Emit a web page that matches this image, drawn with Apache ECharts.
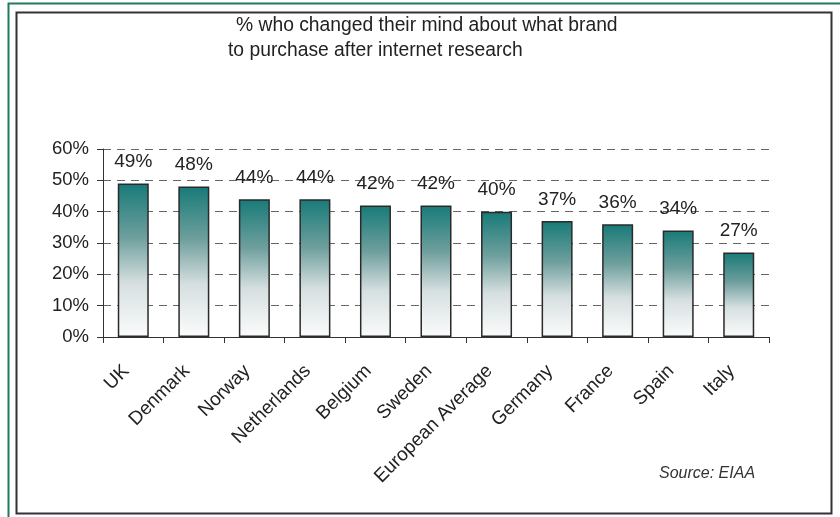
<!DOCTYPE html>
<html><head><meta charset="utf-8">
<script src="https://cdn.jsdelivr.net/npm/echarts@6/dist/echarts.min.js"></script>
<style>html,body{margin:0;padding:0;background:#fff}#c{width:840px;height:517px}</style>
</head><body><div id="c"></div>
<script>
var categories = ['UK','Denmark','Norway','Netherlands','Belgium','Sweden','European Average','Germany','France','Spain','Italy'];
var values = [49,48,44,44,42,42,40,37,36,34,27];
var titleLines = ['% who changed their mind about what brand','to purchase after internet research'];
var sourceText = 'Source: EIAA';

var chart = echarts.init(document.getElementById('c'), null, {renderer:'canvas'});
var font = '"Liberation Sans", Arial, sans-serif';
chart.setOption({
  animation:false,
  backgroundColor:'#fff',
  graphic:[
    {type:'polyline', shape:{points:[[8.5,517],[8.5,3.5],[840,3.5]]}, style:{stroke:'#1f7a5e', lineWidth:2, fill:null}},
    {type:'rect', shape:{x:16.5,y:12.5,width:815,height:501}, style:{stroke:'#333', lineWidth:2, fill:null}},
    {type:'text', left:236, top:16, style:{text:titleLines[0], font:'19.3px '+font, fill:'#222'}},
    {type:'text', left:228, top:41, style:{text:titleLines[1], font:'19.3px '+font, fill:'#222'}},
    {type:'text', left:659, top:466, style:{text:sourceText, font:'italic 16px '+font, fill:'#333'}}
  ],
  grid:{left:103, right:71, top:149, bottom:180, containLabel:false},
  xAxis:{
    type:'category', data:categories,
    axisLine:{lineStyle:{color:'#333', width:1}},
    axisTick:{show:true, alignWithLabel:false, length:6, lineStyle:{color:'#333'}},
    axisLabel:{rotate:45, interval:0, margin:24, padding:[0,10,0,0], fontSize:19, fontFamily:font, color:'#222'}
  },
  yAxis:{
    type:'value', min:0, max:60, interval:10,
    axisLine:{show:true, lineStyle:{color:'#333'}},
    axisTick:{show:true, inside:false, length:6, lineStyle:{color:'#333'}},
    axisLabel:{formatter:'{value}%', fontSize:18.5, fontFamily:font, color:'#222', margin:14},
    splitLine:{show:true, lineStyle:{color:'#666', type:[8,6], width:1}}
  },
  series:[{
    type:'bar', data:values, barWidth:31,
    itemStyle:{
      borderColor:'#2a2a2a', borderWidth:1.5,
      color:new echarts.graphic.LinearGradient(0,0,0,1,[
        {offset:0,color:'#177a78'},{offset:0.35,color:'#6e9f9d'},{offset:0.65,color:'#d6dfe0'},{offset:1,color:'#fbfcfc'}],false)
    },
    label:{show:true, position:'top', distance:12, formatter:'{c}%', fontSize:19, fontFamily:font, color:'#222'}
  }]
});
</script></body></html>
